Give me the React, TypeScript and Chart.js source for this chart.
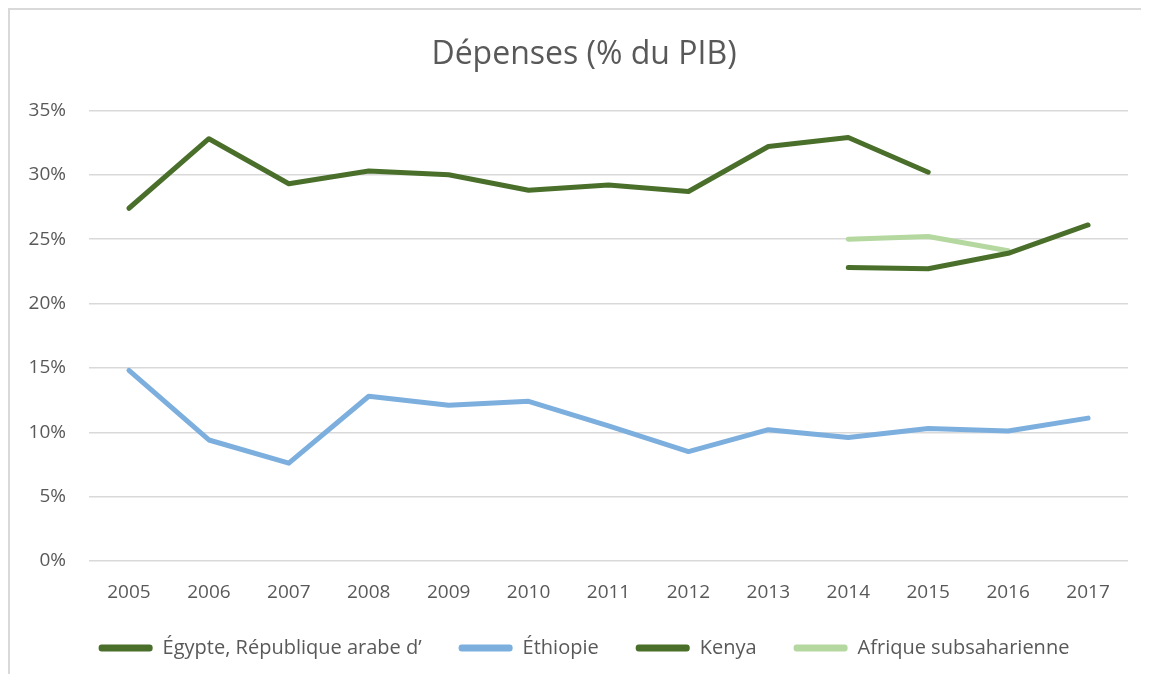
import React, { useEffect, useRef } from "react";
import { Chart, registerables } from "chart.js";

Chart.register(...registerables);

const years = ["2005", "2006", "2007", "2008", "2009", "2010", "2011", "2012", "2013", "2014", "2015", "2016", "2017"];
const egypt = [27.4, 32.8, 29.3, 30.3, 30.0, 28.8, 29.2, 28.7, 32.2, 32.9, 30.2, null, null];
const ethiopia = [14.8, 9.4, 7.6, 12.8, 12.1, 12.4, 10.5, 8.5, 10.2, 9.6, 10.3, 10.1, 11.1];
const kenya = [null, null, null, null, null, null, null, null, null, 22.8, 22.7, 23.9, 26.1];
const ssa = [null, null, null, null, null, null, null, null, null, 25.0, 25.2, 24.1, null];
const seriesNames = ["Égypte, République arabe d’", "Éthiopie", "Kenya", "Afrique subsaharienne"];
const seriesColors = ["#4a6f2b", "#7cafde", "#4a6f2b", "#b5d8a0"];
const yTicks = [0, 5, 10, 15, 20, 25, 30, 35];

const FONT = "'Open Sans'";
const TEXT = "#595959";

export default function App() {
  const ref = useRef<HTMLCanvasElement | null>(null);
  useEffect(() => {
    if (!ref.current) return;
    const data = [egypt, ethiopia, kenya, ssa];
    const chart = new Chart(ref.current, {
      type: "line",
      data: {
        labels: years,
        datasets: data.map((d, i) => ({
          label: seriesNames[i],
          data: d,
          borderColor: seriesColors[i],
          backgroundColor: seriesColors[i],
          borderWidth: 5,
          borderCapStyle: "round",
          borderJoinStyle: "round",
          pointRadius: 0,
          pointHoverRadius: 0,
          spanGaps: false,
          tension: 0,
          order: i === 2 ? 0 : i === 3 ? 1 : 2 + i,
        })),
      },
      options: {
        responsive: false,
        animation: false,
        devicePixelRatio: 1,
        layout: { padding: { left: 30, right: 13, top: 0, bottom: 6 } },
        plugins: {
          tooltip: { enabled: false },
          title: {
            display: true,
            text: "Dépenses (% du PIB)",
            color: TEXT,
            font: { family: FONT, size: 32, weight: "normal" },
            padding: { top: 26, bottom: 36 },
          },
          legend: {
            position: "bottom",
            labels: {
              color: TEXT,
              font: { family: FONT, size: 20 },
              boxWidth: 54,
              boxHeight: 7,
              padding: 37,
              useBorderRadius: true,
              borderRadius: 3,
              sort: (a: any, b: any) => a.datasetIndex - b.datasetIndex,
              generateLabels: (c: any) => {
                const items = (Chart as any).defaults.plugins.legend.labels.generateLabels(c);
                return items.map((it: any) => ({
                  ...it,
                  fillStyle: seriesColors[it.datasetIndex],
                  strokeStyle: seriesColors[it.datasetIndex],
                  lineWidth: 0,
                  borderRadius: 3,
                }));
              },
            },
          },
        },
        scales: {
          x: {
            offset: true,
            grid: { display: false, drawTicks: false },
            border: { display: false },
            afterFit: (s: any) => {
              s.height = 40;
            },
            ticks: {
              color: TEXT,
              font: { family: FONT, size: 19 },
              padding: 20,
              maxRotation: 0,
            },
          },
          y: {
            min: 0,
            max: 35,
            afterBuildTicks: (s: any) => {
              s.ticks = yTicks.map((v) => ({ value: v }));
            },
            afterFit: (s: any) => {
              s.width = 49;
              // let the tick labels extend into the left layout padding
              s._computeLabelArea = () => undefined;
            },
            grid: { color: "#d9d9d9", lineWidth: 1.5, drawTicks: false },
            border: { display: false },
            ticks: {
              color: TEXT,
              font: { family: FONT, size: 19 },
              padding: 23,
              callback: (v: any) => v + "%",
            },
          },
        },
      },
    } as any);
    return () => chart.destroy();
  }, []);
  return (
    <div
      style={{
        borderTop: "2px solid #d9d9d9",
        borderLeft: "2px solid #d9d9d9",
        width: 1131,
        height: 664,
        background: "#fff",
      }}
    >
      <canvas ref={ref} width={1131} height={664} style={{ display: "block" }} />
    </div>
  );
}
